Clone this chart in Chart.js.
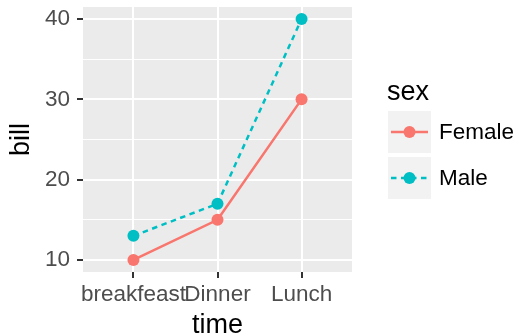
<!DOCTYPE html>
<html>
<head>
<meta charset="utf-8">
<script src="https://cdn.jsdelivr.net/npm/chart.js@4"></script>
<style>
  html, body { margin: 0; padding: 0; background: #fff; }
  #wrap { width: 519px; height: 336px; position: relative; }
</style>
</head>
<body>
<div id="wrap"><canvas id="myChart" width="519" height="336"></canvas></div>
<script>
// data
const times = ['breakfeast', 'Dinner', 'Lunch'];
const female = [10, 15, 30];
const male = [13, 17, 40];
const yTicks = [10, 15, 20, 25, 30, 35, 40];

const RED = '#F8766D';
const TEAL = '#00BFC4';
const FONT = '"Liberation Sans", Arial, sans-serif';

const panelBg = {
  id: 'panelBg',
  beforeDraw(chart) {
    const a = chart.chartArea, c = chart.ctx;
    c.save();
    c.fillStyle = '#EBEBEB';
    c.fillRect(a.left, a.top, a.right - a.left, a.bottom - a.top);
    c.restore();
  }
};

// ggplot style legend on the right
const ggLegend = {
  id: 'ggLegend',
  afterDraw(chart) {
    const c = chart.ctx;
    c.save();
    c.fillStyle = '#000';
    c.font = '27px ' + FONT;
    c.textBaseline = 'alphabetic';
    c.textAlign = 'left';
    c.fillText('sex', 387, 100);
    const items = [
      { label: 'Female', color: RED, dash: [], y: 111 },
      { label: 'Male', color: TEAL, dash: [5.5, 4.5], y: 157 }
    ];
    items.forEach(it => {
      c.fillStyle = '#F2F2F2';
      c.fillRect(388, it.y, 43, 42);
      const cy = it.y + 21;
      c.strokeStyle = it.color;
      c.lineWidth = 2.5;
      c.setLineDash(it.dash);
      c.beginPath();
      c.moveTo(391, cy);
      c.lineTo(428, cy);
      c.stroke();
      c.setLineDash([]);
      c.fillStyle = it.color;
      c.beginPath();
      c.arc(409.5, cy, 6, 0, Math.PI * 2);
      c.fill();
      c.fillStyle = '#000';
      c.font = '22.5px ' + FONT;
      c.textBaseline = 'middle';
      c.fillText(it.label, 439, cy + 1);
    });
    c.restore();
  }
};

const ctx = document.getElementById('myChart').getContext('2d');
new Chart(ctx, {
  type: 'line',
  data: {
    datasets: [
      {
        label: 'Female',
        data: female.map((v, i) => ({ x: i, y: v })),
        borderColor: RED,
        backgroundColor: RED,
        borderWidth: 2.5,
        pointRadius: 6,
        pointHoverRadius: 6,
        pointBorderWidth: 0,
        tension: 0
      },
      {
        label: 'Male',
        data: male.map((v, i) => ({ x: i, y: v })),
        borderColor: TEAL,
        backgroundColor: TEAL,
        borderWidth: 2.5,
        borderDash: [5.5, 4.5],
        pointRadius: 6,
        pointHoverRadius: 6,
        pointBorderWidth: 0,
        tension: 0
      }
    ]
  },
  options: {
    responsive: false,
    animation: false,
    layout: { padding: { top: 7, right: 167, left: 0, bottom: 0 } },
    plugins: {
      legend: { display: false },
      tooltip: { enabled: false }
    },
    scales: {
      x: {
        type: 'linear',
        min: -0.6,
        max: 2.6,
        afterBuildTicks: s => { s.ticks = times.map((t, i) => ({ value: i })); },
        afterFit: s => { s.height = 64; s.paddingLeft = 0; s.paddingRight = 0; },
        border: { display: false },
        grid: {
          color: '#FFFFFF',
          lineWidth: 2,
          tickColor: '#333333',
          tickLength: 6,
          tickWidth: 2
        },
        ticks: {
          callback: v => times[v],
          color: '#4D4D4D',
          font: { family: FONT, size: 22.5 },
          padding: 3,
          maxRotation: 0,
          autoSkip: false
        },
        title: {
          display: true,
          text: 'time',
          color: '#000',
          font: { family: FONT, size: 27, lineHeight: 0.75 },
          padding: { top: 0, bottom: 0 }
        }
      },
      y: {
        min: 8.5,
        max: 41.5,
        afterBuildTicks: s => { s.ticks = yTicks.map(v => ({ value: v })); },
        afterFit: s => { s.width = 83; s.paddingTop = 0; s.paddingBottom = 0; },
        border: { display: false },
        grid: {
          color: '#FFFFFF',
          lineWidth: c => (c.tick && c.tick.value % 10 === 0) ? 2 : 1,
          tickColor: c => (c.tick && c.tick.value % 10 === 0) ? '#333333' : 'rgba(0,0,0,0)',
          tickLength: 6,
          tickWidth: 2
        },
        ticks: {
          callback: v => (v % 10 === 0 ? String(v) : ''),
          color: '#4D4D4D',
          font: { family: FONT, size: 22.5 },
          padding: 7
        },
        title: {
          display: true,
          text: 'bill',
          color: '#000',
          font: { family: FONT, size: 27 },
          padding: { top: 5, bottom: 0 }
        }
      }
    }
  },
  plugins: [panelBg, ggLegend]
});
</script>
</body>
</html>
